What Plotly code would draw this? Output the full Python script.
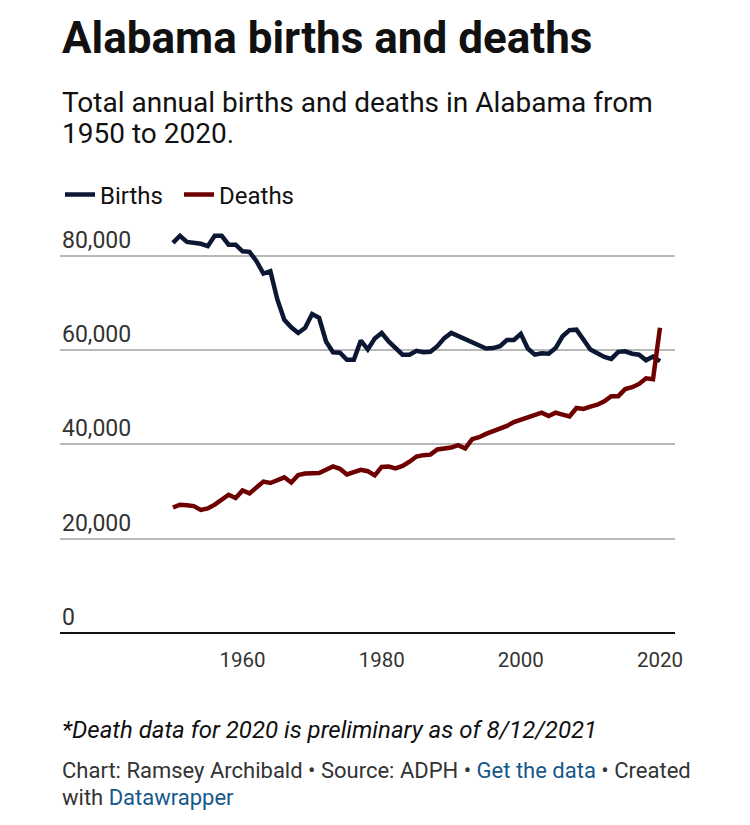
import plotly.graph_objects as go

years = list(range(1950, 2021))

births = [
    82.7, 84.2, 82.9, 82.7, 82.5, 82.0, 84.2, 84.2, 82.3, 82.3,
    80.9, 80.8, 78.8, 76.2, 76.7, 70.7, 66.4, 64.8, 63.6, 64.7,
    67.6, 66.8, 61.8, 59.5, 59.4, 57.9, 57.9, 62.0, 60.1, 62.4,
    63.6, 61.8, 60.4, 59.0, 59.0, 59.8, 59.5, 59.6, 60.8, 62.5,
    63.6, 62.9, 62.2, 61.6, 60.9, 60.3, 60.4, 60.8, 62.1, 62.1,
    63.4, 60.3, 59.0, 59.3, 59.2, 60.4, 62.9, 64.2, 64.3, 62.2,
    60.1, 59.3, 58.5, 58.1, 59.6, 59.7, 59.2, 59.0, 57.8, 58.6,
    57.6,
]

deaths = [
    26.6, 27.2, 27.1, 26.9, 26.1, 26.4, 27.2, 28.2, 29.3, 28.6,
    30.2, 29.6, 30.9, 32.1, 31.8, 32.5, 33.0, 31.9, 33.5, 33.8,
    33.8, 33.9, 34.6, 35.3, 34.8, 33.6, 34.1, 34.6, 34.3, 33.4,
    35.2, 35.3, 34.9, 35.4, 36.3, 37.4, 37.7, 37.8, 38.9, 39.1,
    39.3, 39.8, 39.1, 41.1, 41.5, 42.2, 42.8, 43.2, 43.9, 44.7,
    45.2, 45.8, 46.3, 46.7, 46.0, 46.7, 46.3, 45.9, 47.7, 47.5,
    48.0, 48.4, 49.1, 50.2, 50.2, 51.7, 52.1, 52.8, 54.0, 53.8,
    64.7,
]

births = [v * 1000 for v in births]
deaths = [v * 1000 for v in deaths]

y_ticks = [0, 20000, 40000, 60000, 80000]
y_tick_labels = ["0", "20,000", "40,000", "60,000", "80,000"]
x_ticks = [1960, 1980, 2000, 2020]
x_tick_labels = ["1960", "1980", "2000", "2020"]

BIRTH_COLOR = "#0b1733"
DEATH_COLOR = "#6e0000"
FONT = "Roboto"

# page has an 8px body margin: figure is 742x817 drawn at (8, 8)
W, H = 742, 817
PLOT_TOP, PLOT_H = 232, 401  # page coordinates


def py(page_y):
    return (PLOT_TOP + PLOT_H - page_y) / PLOT_H


fig = go.Figure()
fig.add_trace(go.Scatter(x=years, y=births, mode="lines", name="Births",
                         line=dict(color=BIRTH_COLOR, width=4.5)))
fig.add_trace(go.Scatter(x=years, y=deaths, mode="lines", name="Deaths",
                         line=dict(color=DEATH_COLOR, width=4.5)))

fig.update_layout(
    width=W, height=H,
    margin=dict(l=52, r=75, t=224, b=192),
    paper_bgcolor="white", plot_bgcolor="white",
    font=dict(family=FONT, color="#333333"),
    showlegend=True,
    legend=dict(orientation="h", x=0, xanchor="left", y=py(195), yanchor="middle",
                font=dict(size=24, color="#111111"), itemwidth=30, entrywidth=74,
                bgcolor="rgba(0,0,0,0)", traceorder="normal"),
    title=dict(text="Alabama births and deaths", x=54 / W, xanchor="left",
               xref="container", y=1 - 30 / H, yref="container", yanchor="middle",
               font=dict(family=FONT, size=44, color="#111111", weight=700)),
)

fig.update_xaxes(
    range=[1933.76, 2022.16], tickvals=x_ticks, ticktext=x_tick_labels,
    showgrid=False, zeroline=False, showline=False, ticks="",
    tickfont=dict(size=20.5, color="#333333"), ticklabelstandoff=12,
)
fig.update_yaxes(
    range=[0, 85000], tickvals=y_ticks, ticktext=y_tick_labels,
    showgrid=True, gridcolor="#b9b9b9", gridwidth=2,
    zeroline=True, zerolinecolor="#111111", zerolinewidth=2,
    showline=False, ticks="", showticklabels=False,
)

for val, lab in zip(y_ticks, y_tick_labels):
    fig.add_annotation(text=lab, xref="paper", yref="y", x=0, y=val,
                       xanchor="left", yanchor="bottom", showarrow=False,
                       font=dict(family=FONT, size=23, color="#333333"))

fig.add_annotation(
    text="Total annual births and deaths in Alabama from",
    xref="paper", yref="paper", x=0, y=py(102), xanchor="left", yanchor="middle",
    align="left", showarrow=False, font=dict(family=FONT, size=28, color="#111111"),
)
fig.add_annotation(
    text="1950 to 2020.",
    xref="paper", yref="paper", x=0, y=py(134), xanchor="left", yanchor="middle",
    align="left", showarrow=False, font=dict(family=FONT, size=28, color="#111111"),
)
fig.add_annotation(
    text="<i>*Death data for 2020 is preliminary as of 8/12/2021</i>",
    xref="paper", yref="paper", x=0, y=py(730), xanchor="left", yanchor="middle",
    align="left", showarrow=False, font=dict(family=FONT, size=24, color="#111111"),
)
fig.add_annotation(
    text=("Chart: Ramsey Archibald • Source: ADPH • "
          "<span style='color:#15588a'>Get the data</span> • Created"),
    xref="paper", yref="paper", x=0, y=py(770), xanchor="left", yanchor="middle",
    align="left", showarrow=False, font=dict(family=FONT, size=22, color="#333333"),
)
fig.add_annotation(
    text="with <span style='color:#15588a'>Datawrapper</span>",
    xref="paper", yref="paper", x=0, y=py(797), xanchor="left", yanchor="middle",
    align="left", showarrow=False, font=dict(family=FONT, size=22, color="#333333"),
)

fig.write_html("out.html")
